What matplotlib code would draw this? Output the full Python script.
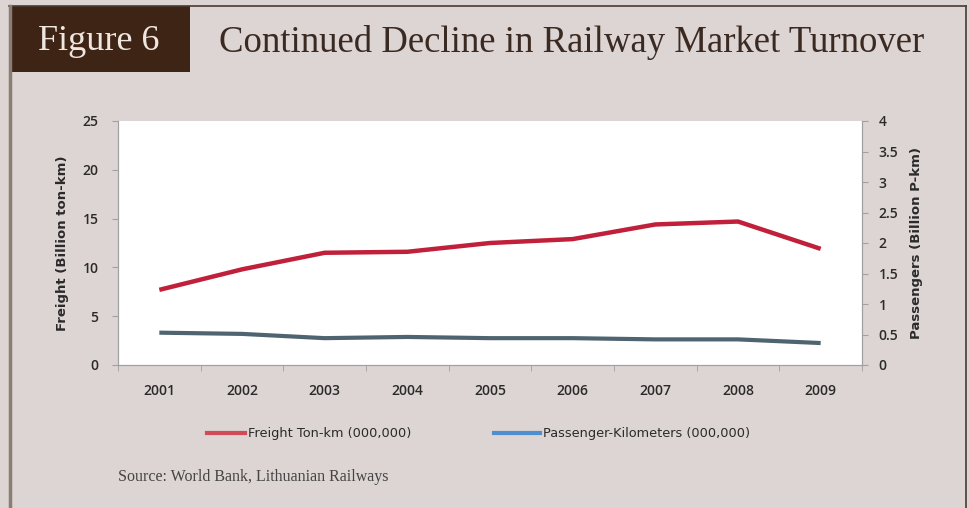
import matplotlib
matplotlib.use("Agg")
import matplotlib.pyplot as plt
from matplotlib.lines import Line2D
from matplotlib.patches import Rectangle

years = ["2001", "2002", "2003", "2004", "2005", "2006", "2007", "2008", "2009"]
freight_bn_tkm = [7.7, 9.8, 11.5, 11.6, 12.5, 12.9, 14.4, 14.7, 11.9]
passengers_bn_pkm = [0.53, 0.51, 0.44, 0.46, 0.44, 0.44, 0.42, 0.42, 0.36]
left_ticks = [0, 5, 10, 15, 20, 25]
right_ticks = [0, 0.5, 1, 1.5, 2, 2.5, 3, 3.5, 4]
right_tick_labels = ["0", "0.5", "1", "1.5", "2", "2.5", "3", "3.5", "4"]
legend_labels = ["Freight Ton-km (000,000)", "Passenger-Kilometers (000,000)"]

BG = "#ddd5d3"
BANNER = "#3e2415"
RED = "#c0203a"
SLATE = "#4e6470"
SPINE = "#a0a0a0"
TXT = "#2a2a2a"

W, H = 969, 508
fig = plt.figure(figsize=(W / 100, H / 100), dpi=100, facecolor=BG)


def fx(px):
    return px / W


def fy(py):
    return 1 - py / H


# frame around the figure panel
fig.add_artist(Line2D([fx(9), fx(966)], [fy(6), fy(6)], color="#4a3a30", lw=1.2))
fig.add_artist(Line2D([fx(9.5), fx(9.5)], [0, fy(6)], color="#8a7d74", lw=2.5))
fig.add_artist(Line2D([fx(966), fx(966)], [0, fy(6)], color="#4a3a30", lw=1.2))

# banner with figure number
fig.add_artist(Rectangle((fx(9), fy(72)), fx(190 - 9), (72 - 6) / H,
                         transform=fig.transFigure, facecolor=BANNER, edgecolor="none"))
fig.text(fx(99), fy(42), "Figure 6", color="#efe6df", fontsize=26,
         family="Liberation Serif", ha="center", va="center")
fig.text(fx(219), fy(42), "Continued Decline in Railway Market Turnover",
         color="#3a2a22", fontsize=26.5, family="Liberation Serif", ha="left", va="center")

# plot area
ax = fig.add_axes([fx(118), fy(365), fx(862 - 118), (365 - 121) / H])
ax.set_facecolor("white")
x = list(range(len(years)))
ax.plot(x, freight_bn_tkm, color=RED, lw=3.2, solid_capstyle="butt", zorder=3)
ax.set_xlim(-0.5, len(years) - 0.5)
ax.set_ylim(0, 25)
ax.set_yticks(left_ticks)
ax.set_xticks(x)
ax.set_xticklabels(years)
ax.set_xticks([i + 0.5 for i in range(-1, len(years))], minor=True)
ax.tick_params(axis="x", which="major", length=0, pad=14, labelsize=10, labelcolor=TXT)
ax.tick_params(axis="x", which="minor", length=4, color=SPINE, direction="out")
ax.tick_params(axis="y", length=4, color=SPINE, direction="out", labelsize=10,
               labelcolor=TXT, pad=10)
ax.spines["top"].set_visible(False)
for s in ("left", "bottom", "right"):
    ax.spines[s].set_color(SPINE)
ax.set_ylabel("Freight (Billion ton-km)", fontsize=9.5, fontweight="bold", color=TXT,
              labelpad=10)

ax2 = ax.twinx()
ax2.plot(x, passengers_bn_pkm, color=SLATE, lw=3.0, solid_capstyle="butt", zorder=3)
ax2.set_ylim(0, 4)
ax2.set_yticks(right_ticks)
ax2.set_yticklabels(right_tick_labels)
ax2.tick_params(axis="y", length=4, color=SPINE, direction="out", labelsize=10,
                labelcolor=TXT, pad=8)
ax2.spines["top"].set_visible(False)
for s in ("left", "bottom", "right"):
    ax2.spines[s].set_color(SPINE)
ax2.set_ylabel("Passengers (Billion P-km)", fontsize=9.5, fontweight="bold", color=TXT,
               labelpad=8)

for a in (ax, ax2):
    for lab in a.get_xticklabels() + a.get_yticklabels():
        lab.set_family("Open Sans")
        lab.set_fontweight("semibold")

# legend keys and labels
legend_keys = [("#d04a58", 207, 245, 248), ("#4f8fd0", 494, 540, 543)]
for (col, x0, x1, tx), label in zip(legend_keys, legend_labels):
    fig.add_artist(Line2D([fx(x0), fx(x1)], [fy(433), fy(433)], color=col, lw=3))
    fig.text(fx(tx), fy(433), label, fontsize=9.3, color=TXT, ha="left", va="center")

fig.text(fx(118), fy(477), "Source: World Bank, Lithuanian Railways", fontsize=11.5,
         family="Liberation Serif", color="#444444", ha="left", va="center")

fig.savefig("out.png", dpi=100, facecolor=BG)
